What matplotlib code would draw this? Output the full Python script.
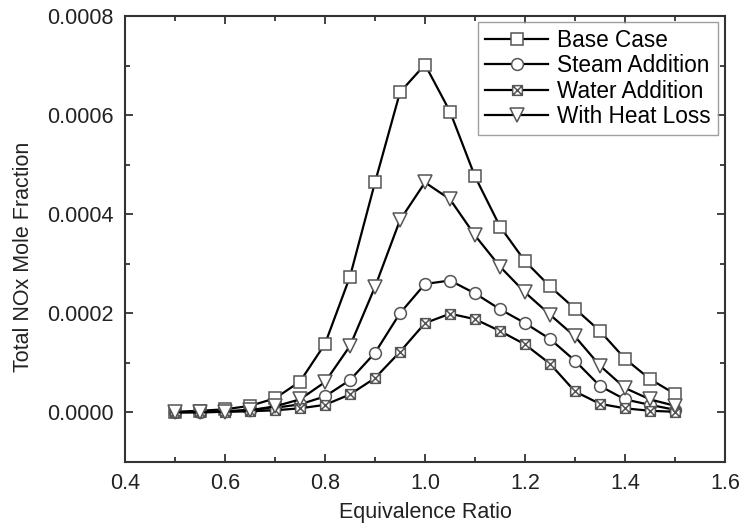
import matplotlib
matplotlib.use('Agg')
import matplotlib.pyplot as plt
import numpy as np
from matplotlib.path import Path
from matplotlib.ticker import MultipleLocator, FormatStrFormatter

plt.rcParams['font.family'] = ['Liberation Sans', 'DejaVu Sans']

# --------- DATA --------------------------------
phi = [0.50, 0.55, 0.60, 0.65, 0.70, 0.75, 0.80, 0.85, 0.90, 0.95, 1.00,
       1.05, 1.10, 1.15, 1.20, 1.25, 1.30, 1.35, 1.40, 1.45, 1.50]

base_case = [0.000001, 0.000003, 0.000006, 0.000013, 0.000028, 0.000062, 0.000138,
             0.000274, 0.000464, 0.000646, 0.000702, 0.000607, 0.000476, 0.000375,
             0.000305, 0.000254, 0.000209, 0.000164, 0.000108, 0.000067, 0.000037]

steam_addition = [0.0, 0.000001, 0.000002, 0.000005, 0.000009, 0.000016, 0.000032,
                  0.000065, 0.000120, 0.000200, 0.000259, 0.000266, 0.000240, 0.000208,
                  0.000180, 0.000148, 0.000104, 0.000053, 0.000026, 0.000015, 0.000005]

water_addition = [0.0, 0.0, 0.000001, 0.000002, 0.000004, 0.000008, 0.000015,
                  0.000036, 0.000069, 0.000122, 0.000180, 0.000199, 0.000188, 0.000164,
                  0.000137, 0.000098, 0.000042, 0.000017, 0.000008, 0.000003, 0.000001]

heat_loss = [0.0, 0.0, 0.000001, 0.000004, 0.000012, 0.000026, 0.000061,
             0.000134, 0.000253, 0.000388, 0.000464, 0.000430, 0.000357, 0.000294,
             0.000242, 0.000197, 0.000153, 0.000094, 0.000049, 0.000026, 0.000013]

labels = ['Base Case', 'Steam Addition', 'Water Addition', 'With Heat Loss']
# -----------------------------------------------

fs = 15.5

# square with a cross inside for the water case
boxx = Path([(-1, -1), (1, -1), (1, 1), (-1, 1), (-1, -1),
             (-1, -1), (1, 1), (-1, 1), (1, -1)],
            [Path.MOVETO, Path.LINETO, Path.LINETO, Path.LINETO, Path.CLOSEPOLY,
             Path.MOVETO, Path.LINETO, Path.MOVETO, Path.LINETO])

fh = plt.figure(figsize=(7.41, 5.31), dpi=100)
ax = fh.add_axes([0.1687, 0.1303, 0.8097, 0.8396])

series = [base_case, steam_addition, water_addition, heat_loss]
markers = ['s', 'o', boxx, 'v']
msizes = [8.5, 8.5, 7, 9.5]

for y, m, ms, lab in zip(series, markers, msizes, labels):
    ax.plot(phi, y, '-', color='k', lw=1.6, marker=m, ms=ms,
            mfc='white', mec='#555555', mew=1.1, label=lab)

ax.set_xlim(0.4, 1.6)
ax.set_ylim(-0.0001, 0.0008)
ax.xaxis.set_major_locator(MultipleLocator(0.2))
ax.xaxis.set_minor_locator(MultipleLocator(0.1))
ax.yaxis.set_major_locator(MultipleLocator(0.0002))
ax.yaxis.set_minor_locator(MultipleLocator(0.0001))
ax.xaxis.set_major_formatter(FormatStrFormatter('%.1f'))
ax.yaxis.set_major_formatter(FormatStrFormatter('%.4f'))
ax.tick_params(which='both', direction='in', top=True, right=True,
               labelsize=fs, colors='#222222', width=1.2)
ax.tick_params(which='major', length=6, pad=8)
ax.tick_params(which='minor', length=3.5)
for s in ax.spines.values():
    s.set_linewidth(1.5)
    s.set_color('#333333')

ax.set_xlabel('Equivalence Ratio', fontsize=fs, color='#222222', labelpad=6)
ax.set_ylabel('Total NOx Mole Fraction', fontsize=fs, color='#222222')
ax.yaxis.set_label_coords(-0.152, 0.46)

leg = ax.legend(loc='upper right', fontsize=16.3, frameon=True, fancybox=False,
                handlelength=2.8, handletextpad=0.4, labelspacing=0.1,
                borderpad=0.3, borderaxespad=0, bbox_to_anchor=(0.988, 0.986))
leg.get_frame().set_edgecolor('#888888')
leg.get_frame().set_linewidth(1.0)

plt.savefig('out.png', dpi=100)
